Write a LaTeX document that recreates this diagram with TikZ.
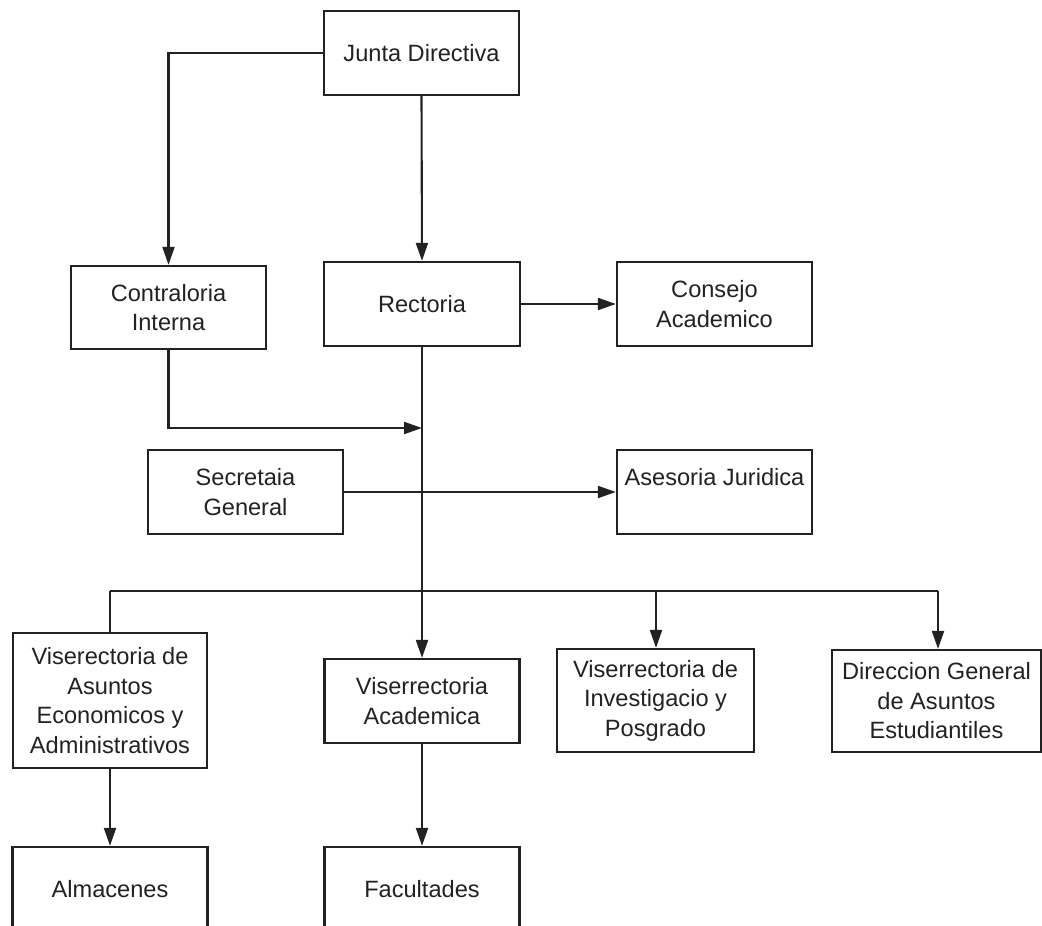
\documentclass[tikz,border=0pt]{standalone}
\usepackage{fontspec}
\setmainfont{Liberation Sans}
\usetikzlibrary{arrows.meta}
\definecolor{ink}{HTML}{222222}
\tikzset{
  box/.style={draw=ink, line width=2.3pt, fill=white, inner sep=0pt, align=center,
    font=\fontsize{23.6}{29.5}\selectfont, text=ink},
  conn/.style={draw=ink, line width=2.1pt},
  arr/.style={conn, -{Triangle[length=18pt,width=12pt]}}
}
\begin{document}
\begin{tikzpicture}[x=1pt,y=-1pt]
\useasboundingbox (0,0) rectangle (1042,926);
\clip (0,0) rectangle (1042,926);
\fill[white] (0,0) rectangle (1042,926);
% nodes
\node[box, minimum width=195pt, minimum height=84pt] (junta) at (421.5,53) {Junta Directiva};
\node[box, minimum width=195pt, minimum height=83pt] (contra) at (168.5,307.5) {Contraloria\\Interna};
\node[box, minimum width=196pt, minimum height=84pt] (rector) at (422,304) {Rectoria};
\node[box, minimum width=195pt, minimum height=84pt] (consejo) at (714.5,304) {Consejo\\Academico};
\node[box, minimum width=195pt, minimum height=84pt] (secre) at (245.5,492) {Secretaia\\General};
\node[box, minimum width=195pt, minimum height=84pt] (asesor) at (714.5,492) {Asesoria Juridica\\\mbox{}};
\node[box, minimum width=194pt, minimum height=135pt] (vae) at (110,700.5) {Viserectoria de\\Asuntos\\Economicos y\\Administrativos};
\node[box, minimum width=195pt, minimum height=84pt] (vac) at (422,701) {Viserrectoria\\Academica};
\node[box, minimum width=197pt, minimum height=103pt] (vip) at (655.5,700.5) {Viserrectoria de\\Investigacio y\\Posgrado};
\node[box, minimum width=209pt, minimum height=102pt] (dgae) at (936.5,701) {Direccion General\\de Asuntos\\Estudiantiles};
\node[box, minimum width=195pt, minimum height=84pt] (alm) at (110,889) {Almacenes};
\node[box, minimum width=195pt, minimum height=84pt] (fac) at (422,889) {Facultades};
% helper coordinates
\coordinate (c1) at (422,428);
\coordinate (b1) at (110,591);
\coordinate (b2) at (938,591);
\coordinate (b3) at (656,591);
% connectors
\draw[arr] (junta.west) -| (contra.north);
\draw[arr] (junta.south) -- (rector.north);
\draw[arr] (rector.east) -- (consejo.west);
\draw[arr] (rector.south) -- (vac.north);
\draw[arr] (contra.south) |- (c1);
\draw[arr] (secre.east) -- (asesor.west);
\draw[conn] (b1) -- (b2);
\draw[conn] (b1) -- (vae.north);
\draw[arr] (b3) -- (vip.north -| b3);
\draw[arr] (b2) -- (dgae.north -| b2);
\draw[arr] (vae.south) -- (alm.north);
\draw[arr] (vac.south) -- (fac.north);
\end{tikzpicture}
\end{document}
